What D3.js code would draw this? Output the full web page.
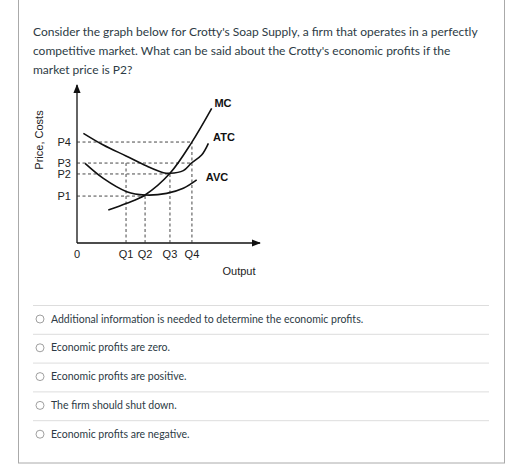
<!DOCTYPE html>
<html>
<head>
<meta charset="utf-8">
<script src="https://cdn.jsdelivr.net/npm/d3@7"></script>
<style>
  body { margin: 0; background: #fff; }
  svg { display: block; }
</style>
</head>
<body>
<script>
// question + answers
const questionLines = [
  "Consider the graph below for Crotty's Soap Supply, a firm that operates in a perfectly",
  "competitive market. What can be said about the Crotty's economic profits if the",
  "market price is P2?"
];
const answers = [
  "Additional information is needed to determine the economic profits.",
  "Economic profits are zero.",
  "Economic profits are positive.",
  "The firm should shut down.",
  "Economic profits are negative."
];

// graph values (arbitrary units 0..100)
const priceLevels = [{k: "P1", v: 29.7}, {k: "P2", v: 43.7}, {k: "P3", v: 50.6}, {k: "P4", v: 63.9}];
const qtyLevels = [{k: "Q1", v: 26.8}, {k: "Q2", v: 37.2}, {k: "Q3", v: 50.8}, {k: "Q4", v: 62.8}];
const atc = [[3.5,69.4],[14.4,62.0],[26.8,55.1],[38.1,48.7],[47.2,44.5],[50.8,44.1],[58.1,45.8],[62.7,50.8],[68.1,55.7],[71.8,63.1]];
const avc = [[4.4,50.4],[14.4,40.9],[27.2,32.5],[37.2,30.4],[49.0,31.4],[58.1,34.6],[65.4,39.9]];
const mc = [[17.1,20.9],[27.2,25.1],[37.2,30.4],[50.8,44.1],[62.7,63.7],[73.6,85.2]];
// vertical guides: [qty, price] the dashes run up to
const guides = [
  {q: 26.8, p: 50.6}, {q: 37.2, p: 29.7}, {q: 50.8, p: 43.7}, {q: 62.8, p: 63.9}
];

const W = 511, H = 465;
const svg = d3.select("body").append("svg").attr("width", W).attr("height", H)
    .style("font-family", "Lato, 'Open Sans', sans-serif");

svg.append("rect").attr("x", 18.5).attr("y", -2).attr("width", 486).attr("height", 465)
    .attr("fill", "#fff").attr("stroke", "#aaa");

svg.append("g").selectAll("text").data(questionLines).join("text")
    .attr("x", 33).attr("y", (d, i) => 36 + i * 19)
    .attr("font-size", 12).attr("fill", "#2d3b45").text(d => d);

const x = d3.scaleLinear().domain([0, 100]).range([77, 260]);
const y = d3.scaleLinear().domain([0, 100]).range([243, 85]);

const defs = svg.append("defs");
defs.append("marker").attr("id", "arr").attr("viewBox", "0 0 10 10")
    .attr("refX", 9).attr("refY", 5).attr("markerWidth", 7).attr("markerHeight", 7)
    .attr("orient", "auto-start-reverse")
  .append("path").attr("d", "M0,1L10,5L0,9z").attr("fill", "#111");

const g = svg.append("g").style("font-family", "'Liberation Sans', Arial, sans-serif");
g.append("line").attr("x1", x(0)).attr("y1", y(0)).attr("x2", x(100)).attr("y2", y(0))
    .attr("stroke", "#111").attr("stroke-width", 1.3).attr("marker-end", "url(#arr)");
g.append("line").attr("x1", x(0)).attr("y1", y(0)).attr("x2", x(0)).attr("y2", y(100))
    .attr("stroke", "#111").attr("stroke-width", 1.3).attr("marker-end", "url(#arr)");

// dashed guides
const dash = g.append("g").attr("stroke", "#333").attr("stroke-width", 0.9).attr("stroke-dasharray", "3,2.5");
const maxQ = {P1: 37.2, P2: 50.8, P3: 62.8, P4: 62.8};
priceLevels.forEach(p => dash.append("line")
    .attr("x1", x(0)).attr("x2", x(maxQ[p.k])).attr("y1", y(p.v)).attr("y2", y(p.v)));
guides.forEach(d => dash.append("line")
    .attr("x1", x(d.q)).attr("x2", x(d.q)).attr("y1", y(0)).attr("y2", y(d.p)));

const line = d3.line().x(d => x(d[0])).y(d => y(d[1])).curve(d3.curveCatmullRom);
[atc, avc, mc].forEach(c => g.append("path").datum(c).attr("d", line)
    .attr("fill", "none").attr("stroke", "#111").attr("stroke-width", 1.6));

const fs = 11;
g.selectAll(".pl").data(priceLevels).join("text")
    .attr("x", x(0) - 6).attr("y", d => y(d.v)).attr("dy", "0.35em")
    .attr("text-anchor", "end").attr("font-size", fs).attr("fill", "#222").text(d => d.k);
g.selectAll(".ql").data(qtyLevels).join("text")
    .attr("x", d => x(d.v)).attr("y", y(0) + 15)
    .attr("text-anchor", "middle").attr("font-size", fs).attr("fill", "#222").text(d => d.k);
g.append("text").attr("x", x(0)).attr("y", y(0) + 15).attr("text-anchor", "middle")
    .attr("font-size", fs).attr("fill", "#222").text("0");
g.append("text").attr("x", 239).attr("y", 275).attr("text-anchor", "middle")
    .attr("font-size", fs).attr("fill", "#222").text("Output");
g.append("text").attr("transform", "translate(43,140) rotate(-90)").attr("text-anchor", "middle")
    .attr("font-size", fs).attr("fill", "#222").text("Price, Costs");
[["MC", 223, 107], ["ATC", 224, 141], ["AVC", 217, 181]].forEach(([t, px, py]) =>
  g.append("text").attr("x", px).attr("y", py).attr("text-anchor", "middle")
    .attr("font-size", fs).attr("font-weight", "bold").attr("fill", "#111").text(t));

// answers
const a = svg.append("g").selectAll("g").data(answers).join("g")
    .attr("transform", (d, i) => `translate(0,${305 + i * 28.8})`);
a.append("line").attr("x1", 33).attr("x2", 489).attr("y1", 0.5).attr("y2", 0.5).attr("stroke", "#ddd");
a.append("circle").attr("cx", 40).attr("cy", 14).attr("r", 4)
    .attr("fill", "#fff").attr("stroke", "#888").attr("stroke-width", 0.8);
a.append("text").attr("x", 51).attr("y", 14).attr("dy", "0.35em")
    .attr("font-size", 10.5).attr("fill", "#2d3b45").text(d => d);
</script>
</body>
</html>
